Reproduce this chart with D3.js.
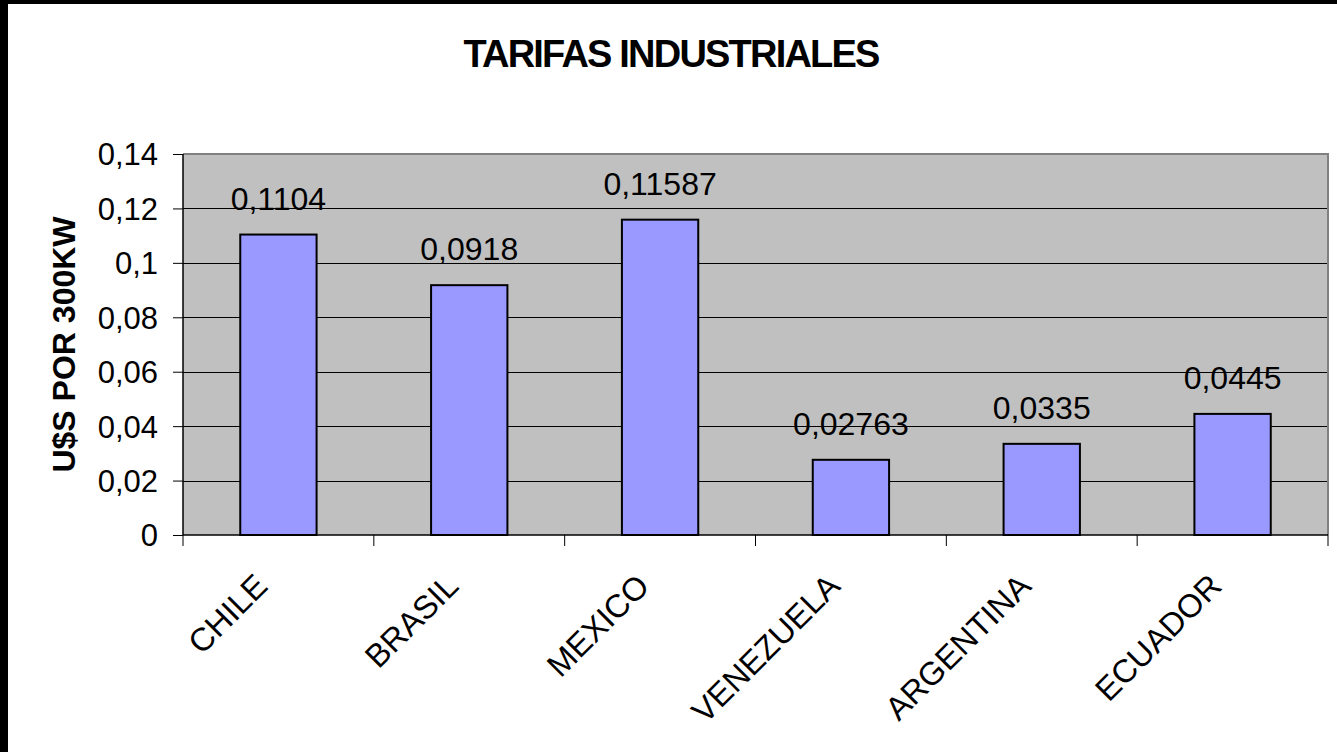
<!DOCTYPE html>
<html>
<head>
<meta charset="utf-8">
<script src="https://cdn.jsdelivr.net/npm/d3@7"></script>
<style>
  html, body { margin: 0; padding: 0; background: #fff; }
  svg { display: block; }
  text { font-family: Arial, "Liberation Sans", sans-serif; fill: #000; }
</style>
</head>
<body>
<script>
const categories = ["CHILE", "BRASIL", "MEXICO", "VENEZUELA", "ARGENTINA", "ECUADOR"];
const values = [0.1104, 0.0918, 0.11587, 0.02763, 0.0335, 0.0445];
const valueLabels = ["0,1104", "0,0918", "0,11587", "0,02763", "0,0335", "0,0445"];
const yTicks = [0, 0.02, 0.04, 0.06, 0.08, 0.1, 0.12, 0.14];
const yTickLabels = ["0", "0,02", "0,04", "0,06", "0,08", "0,1", "0,12", "0,14"];
const title = "TARIFAS INDUSTRIALES";
const yTitle = "U$S POR 300KW";

const W = 1337, H = 752;
const plot = { left: 183, right: 1328, top: 154, bottom: 535 };

const svg = d3.select("body").append("svg").attr("width", W).attr("height", H);

svg.append("rect").attr("x", 0).attr("y", 0).attr("width", W).attr("height", H).attr("fill", "#fff");
svg.append("rect").attr("x", 0).attr("y", 0).attr("width", W).attr("height", 4).attr("fill", "#000");
svg.append("rect").attr("x", 0).attr("y", 0).attr("width", 8).attr("height", H).attr("fill", "#000");

const x = d3.scaleBand().domain(categories).range([plot.left, plot.right]).padding(0);
const y = d3.scaleLinear().domain([0, 0.14]).range([plot.bottom, plot.top]);

svg.append("rect")
  .attr("x", plot.left).attr("y", plot.top)
  .attr("width", plot.right - plot.left).attr("height", plot.bottom - plot.top)
  .attr("fill", "#C0C0C0");

svg.append("g").selectAll("line").data(yTicks.filter(d => d > 0 && d < 0.14)).join("line")
  .attr("x1", plot.left).attr("x2", plot.right)
  .attr("y1", d => Math.round(y(d)) + 0.5).attr("y2", d => Math.round(y(d)) + 0.5)
  .attr("stroke", "#000").attr("stroke-width", 1);

svg.append("path")
  .attr("d", `M${plot.left},${plot.top} H${plot.right} V${plot.bottom}`)
  .attr("fill", "none").attr("stroke", "#808080").attr("stroke-width", 2);

const barW = x.bandwidth() * 0.4;
svg.append("g").selectAll("rect").data(categories).join("rect")
  .attr("x", d => x(d) + (x.bandwidth() - barW) / 2)
  .attr("y", (d, i) => y(values[i]))
  .attr("width", barW)
  .attr("height", (d, i) => y(0) - y(values[i]))
  .attr("fill", "#9999FF")
  .attr("stroke", "#000").attr("stroke-width", 2);

svg.append("g").selectAll("text").data(categories).join("text")
  .attr("x", d => x(d) + x.bandwidth() / 2)
  .attr("y", (d, i) => y(values[i]) - 25)
  .attr("text-anchor", "middle")
  .attr("font-size", 32)
  .text((d, i) => valueLabels[i]);

const yAxis = d3.axisLeft(y).tickValues(yTicks).tickSize(10).tickPadding(15)
  .tickFormat((d, i) => yTickLabels[i]);
const gy = svg.append("g").attr("transform", `translate(${plot.left},0)`).call(yAxis);
gy.select(".domain").attr("stroke", "#000").attr("stroke-width", 1.5).attr("d", `M0,${plot.top}V${plot.bottom}`);
gy.selectAll(".tick line").attr("stroke", "#000");
gy.selectAll(".tick text").attr("font-size", 31).attr("font-family", "Arial, 'Liberation Sans', sans-serif").attr("dy", "0.35em");

const boundaries = categories.map(c => x(c)).concat([plot.right]);
svg.append("line").attr("x1", plot.left).attr("x2", plot.right)
  .attr("y1", plot.bottom).attr("y2", plot.bottom).attr("stroke", "#000").attr("stroke-width", 1.5);
svg.append("g").selectAll("line").data(boundaries).join("line")
  .attr("x1", d => d).attr("x2", d => d)
  .attr("y1", plot.bottom).attr("y2", plot.bottom + 11)
  .attr("stroke", "#000").attr("stroke-width", 1);

svg.append("g").selectAll("text").data(categories).join("text")
  .attr("transform", d => `translate(${x(d) + x.bandwidth() / 2 - 9},588) rotate(-45)`)
  .attr("text-anchor", "end")
  .attr("font-size", 32.5)
  .text(d => d);

svg.append("text")
  .attr("x", 671).attr("y", 66.5)
  .attr("text-anchor", "middle")
  .attr("font-size", 38).attr("font-weight", "bold")
  .attr("letter-spacing", "-1.8px")
  .text(title);

svg.append("text")
  .attr("transform", `translate(75,${(plot.top + plot.bottom) / 2}) rotate(-90)`)
  .attr("text-anchor", "middle")
  .attr("font-size", 32).attr("font-weight", "bold")
  .text(yTitle);
</script>
</body>
</html>
